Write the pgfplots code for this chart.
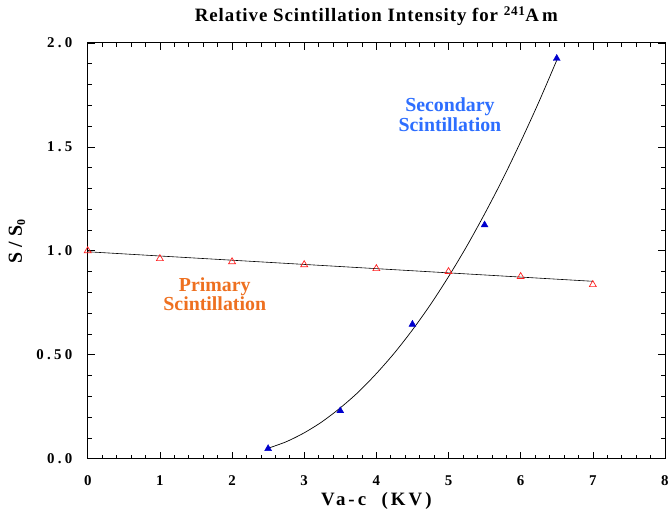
\documentclass[border=0pt]{standalone}
\usepackage{fontspec}
\setmainfont{Liberation Serif}
\newfontfamily\tickfont[LetterSpace=22]{Liberation Serif}
\newfontfamily\labfont[LetterSpace=16]{Liberation Serif}
\newfontfamily\titlefont[LetterSpace=5]{Liberation Serif}
\usepackage{pgfplots}
\pgfplotsset{compat=1.18}

\definecolor{secblue}{RGB}{45,110,255}
\definecolor{priorange}{RGB}{238,112,32}
\definecolor{markblue}{RGB}{0,0,205}
\definecolor{markred}{RGB}{255,30,30}

% measured points
\pgfplotstableread{
x    y
0    1.000
1    0.962
2    0.947
3    0.933
4    0.914
5    0.900
6    0.876
7    0.837
}\primary
\pgfplotstableread{
x    y
2.5  0.048
3.5  0.230
4.5  0.646
5.5  1.124
6.5  1.925
}\secondary

\begin{document}
\begin{tikzpicture}
\begin{axis}[
  name=main,
  scale only axis, width=579bp, height=417bp,
  xmin=0, xmax=8, ymin=0, ymax=2,
  clip=false,
  xtick={0,1,...,8},
  minor x tick num=4,
  ytick={0,0.5,1,1.5,2},
  yticklabels={0.0,0.50,1.0,1.5,2.0},
  minor y tick num=4,
  tick align=inside,
  major tick length=7bp, minor tick length=4bp,
  tick style={black, line width=0.6bp},
  axis line style={black, line width=0.8bp},
  /pgf/number format/assume math mode=true,
  ticklabel style={font=\tickfont\bfseries\fontsize{15}{15}\selectfont},
  yticklabel style={xshift=-12bp},
  xticklabel style={anchor=base, yshift=-27bp},
  xlabel={Va-c\ \ (KV)},
  xlabel style={font=\labfont\bfseries\fontsize{19}{19}\selectfont,
    at={(axis description cs:0.5,0)}, anchor=base, yshift=-47bp},
  ylabel={S / S\textsubscript{\fontsize{12}{12}\selectfont 0}},
  ylabel style={font=\bfseries\fontsize{20}{20}\selectfont,
    at={(axis description cs:-0.114,0.523)}, anchor=base},
  title={Relative Scintillation Intensity for \textsuperscript{241}A\,m},
  title style={font=\titlefont\bfseries\fontsize{19}{19}\selectfont,
    at={(axis description cs:0.5,1)}, anchor=base, yshift=15bp},
]
% fitted curves
\addplot[black, line width=0.6bp] coordinates {(0,0.995) (7,0.853)};
\addplot[black, line width=0.7bp, smooth] coordinates {
  (2.50,0.050) (2.75,0.081) (3.00,0.124) (3.25,0.178) (3.50,0.244)
  (3.75,0.320) (4.00,0.409) (4.25,0.508) (4.50,0.619) (4.75,0.741)
  (5.00,0.875) (5.25,1.020) (5.50,1.177) (5.75,1.344) (6.00,1.524)
  (6.25,1.714) (6.50,1.916)};
% data points
\addplot[only marks, mark=triangle, mark size=4bp,
  mark options={draw=markred, line width=0.7bp}] table {\primary};
\addplot[only marks, mark=triangle*, mark size=4bp,
  mark options={draw=markblue, fill=markblue}] table {\secondary};
% annotations
\node[align=center, text=secblue, font=\bfseries\fontsize{20}{20}\selectfont]
  at (axis cs:5.02,1.655) {Secondary\\Scintillation};
\node[align=center, text=priorange, font=\bfseries\fontsize{20}{19}\selectfont]
  at (axis cs:1.76,0.79) {Primary\\Scintillation};
\end{axis}
% page frame around the plot
\path ([xshift=-88bp,yshift=-54bp]main.south west)
  rectangle ([xshift=5bp,yshift=43bp]main.north east);
\end{tikzpicture}
\end{document}
